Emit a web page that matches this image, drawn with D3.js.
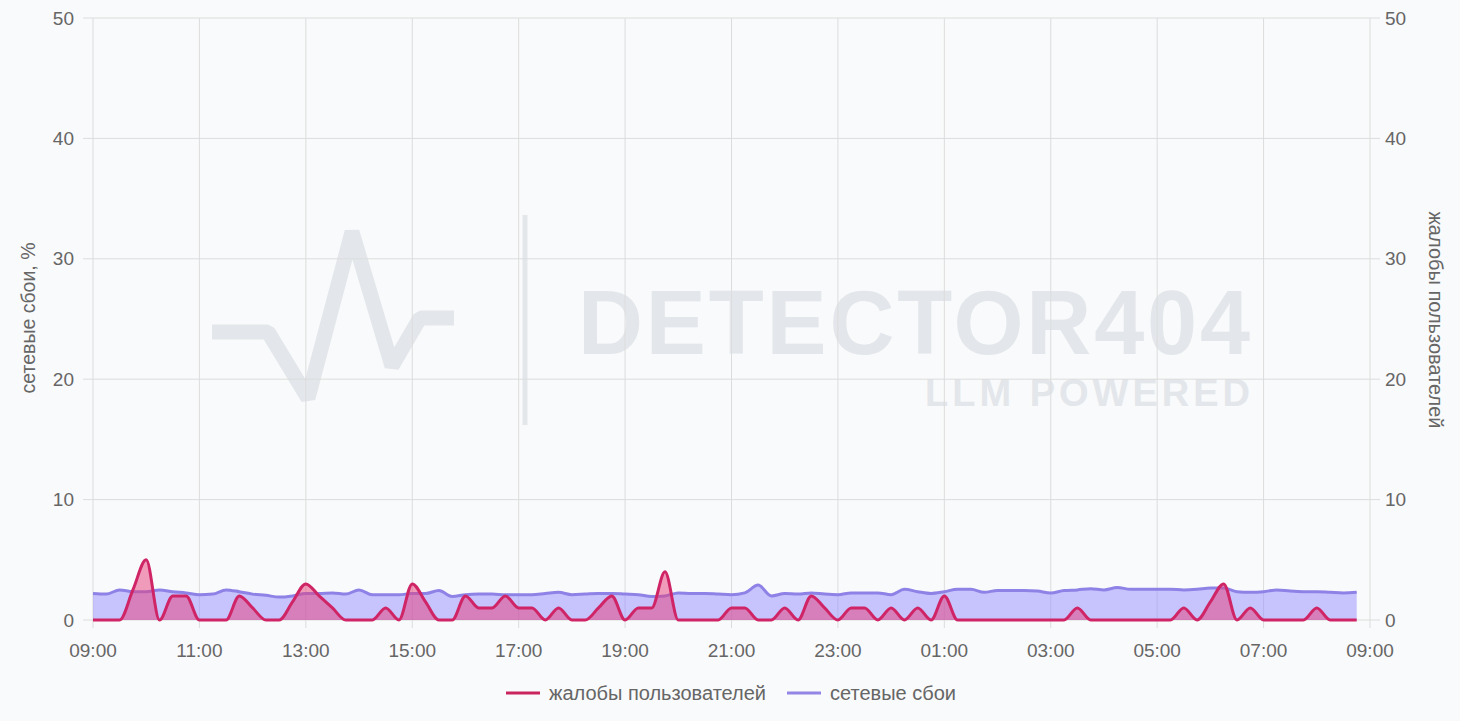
<!DOCTYPE html>
<html>
<head>
<meta charset="utf-8">
<script src="https://cdn.jsdelivr.net/npm/d3@7"></script>
<style>
  body { margin: 0; background: #f9fafb; font-family: "Liberation Sans", Arial, sans-serif; }
  svg { display: block; }
</style>
</head>
<body>
<script>
// 15-minute steps starting at 09:00
var complaints = [0,0,0,2.5,5,0,2,2,0,0,0,2,1,0,0,1.5,3,2,1,0,0,0,1,0,3,1.5,0,0,2,1,1,2,1,1,0,1,0,0,1,2,0,1,1,4,0,0,0,0,1,1,0,0,1,0,2,1,0,1,1,0,1,0,1,0,2,0,0,0,0,0,0,0,0,0,1,0,0,0,0,0,0,0,1,0,1.5,3,0,1,0,0,0,0,1,0,0,0];
var failures = [2.2,2.15,2.5,2.35,2.35,2.5,2.35,2.25,2.1,2.15,2.5,2.35,2.15,2.05,1.9,2.0,2.2,2.2,2.25,2.15,2.5,2.1,2.1,2.1,2.2,2.2,2.45,1.95,2.1,2.15,2.15,2.1,2.1,2.1,2.2,2.3,2.1,2.15,2.2,2.2,2.15,2.1,1.95,2.0,2.25,2.2,2.2,2.15,2.1,2.25,2.9,2.0,2.2,2.15,2.25,2.15,2.1,2.25,2.25,2.25,2.1,2.55,2.35,2.2,2.35,2.55,2.55,2.3,2.45,2.45,2.45,2.4,2.25,2.45,2.5,2.6,2.5,2.7,2.55,2.55,2.55,2.55,2.5,2.55,2.65,2.65,2.35,2.3,2.35,2.5,2.4,2.35,2.35,2.3,2.25,2.3];
var xTickLabels = ["09:00","11:00","13:00","15:00","17:00","19:00","21:00","23:00","01:00","03:00","05:00","07:00","09:00"];
var yTicks = [0,10,20,30,40,50];
var seriesNames = ["жалобы пользователей","сетевые сбои"];

var W = 1460, H = 721;
var margin = {left: 93, right: 90, top: 18, bottom: 101};
var width = W - margin.left - margin.right;
var height = H - margin.top - margin.bottom;

var svg = d3.select("body").append("svg").attr("width", W).attr("height", H);

// watermark
var wm = svg.append("g").attr("fill", "none").attr("stroke", "#e3e6ea");
wm.append("path")
  .attr("d", "M212,332 L268,332 L308,398 L352,232 L392,366 L420,318 L454,318")
  .attr("stroke-width", 15).attr("stroke-linejoin", "bevel");
wm.append("line").attr("x1", 525).attr("x2", 525).attr("y1", 215).attr("y2", 425).attr("stroke-width", 5);
var wmText = svg.append("text").attr("text-anchor", "end").attr("font-weight", "bold").attr("fill", "#e3e6ea");
wmText.append("tspan").attr("x", 1250).attr("y", 354).attr("font-size", 90)
  .attr("textLength", 672).text("DETECTOR404");
wmText.append("tspan").attr("x", 1250).attr("y", 406).attr("font-size", 38)
  .attr("textLength", 325).text("LLM POWERED");

var g = svg.append("g").attr("transform", "translate(" + margin.left + "," + margin.top + ")");

var x = d3.scaleLinear().domain([0, 24]).range([0, width]);
var yL = d3.scaleLinear().domain([0, 50]).range([height, 0]);
var yR = d3.scaleLinear().domain([0, 50]).range([height, 0]);

// grid
g.selectAll(".hgrid").data(yTicks).enter().append("line")
  .attr("x1", -10).attr("x2", width + 10)
  .attr("y1", function(d){ return yL(d); }).attr("y2", function(d){ return yL(d); })
  .attr("stroke", "#dcdcdc");
g.selectAll(".vgrid").data(xTickLabels).enter().append("line")
  .attr("x1", function(d,i){ return x(i*2); }).attr("x2", function(d,i){ return x(i*2); })
  .attr("y1", 0).attr("y2", height + 8)
  .attr("stroke", "#dcdcdc");

// axes labels
var tickColor = "#666";
g.selectAll(".yl").data(yTicks).enter().append("text")
  .attr("x", -19).attr("y", function(d){ return yL(d); }).attr("dy", "0.35em")
  .attr("text-anchor", "end").attr("font-size", 19).attr("fill", tickColor)
  .text(function(d){ return d; });
g.selectAll(".yr").data(yTicks).enter().append("text")
  .attr("x", width + 15).attr("y", function(d){ return yR(d); }).attr("dy", "0.35em")
  .attr("text-anchor", "start").attr("font-size", 19).attr("fill", tickColor)
  .text(function(d){ return d; });
g.selectAll(".xl").data(xTickLabels).enter().append("text")
  .attr("x", function(d,i){ return x(i*2); }).attr("y", height + 37)
  .attr("text-anchor", "middle").attr("font-size", 19).attr("fill", tickColor)
  .text(function(d){ return d; });

svg.append("text").attr("transform", "translate(35,318) rotate(-90)")
  .attr("text-anchor", "middle").attr("font-size", 19.5).attr("fill", tickColor)
  .text("сетевые сбои, %");
svg.append("text").attr("transform", "translate(1429,320) rotate(90)")
  .attr("text-anchor", "middle").attr("font-size", 20).attr("fill", tickColor)
  .text("жалобы пользователей");

// series
var step = 0.25;
function area(ys) {
  return d3.area().curve(d3.curveMonotoneX)
    .x(function(d,i){ return x(i*step); }).y0(height).y1(function(d){ return ys(d); });
}
function line(ys) {
  return d3.line().curve(d3.curveMonotoneX)
    .x(function(d,i){ return x(i*step); }).y(function(d){ return ys(d); });
}

g.append("path").datum(failures).attr("d", area(yL)).attr("fill", "rgba(150,140,255,0.5)");
g.append("path").datum(failures).attr("d", line(yL)).attr("fill", "none")
  .attr("stroke", "#8f82e6").attr("stroke-width", 3);

g.append("path").datum(complaints).attr("d", area(yR)).attr("fill", "rgba(232,60,120,0.5)");
g.append("path").datum(complaints).attr("d", line(yR)).attr("fill", "none")
  .attr("stroke", "#cf2466").attr("stroke-width", 3);

// legend
var legendColors = ["#c9245f", "#9186e6"];
var legendX = [506, 787];
var lg = svg.append("g");
seriesNames.forEach(function(name, i){
  lg.append("line").attr("x1", legendX[i]).attr("x2", legendX[i] + 34)
    .attr("y1", 693).attr("y2", 693).attr("stroke", legendColors[i]).attr("stroke-width", 3);
  lg.append("text").attr("x", legendX[i] + 43).attr("y", 693).attr("dy", "0.35em")
    .attr("font-size", 20).attr("fill", tickColor).text(name);
});
</script>
</body>
</html>
